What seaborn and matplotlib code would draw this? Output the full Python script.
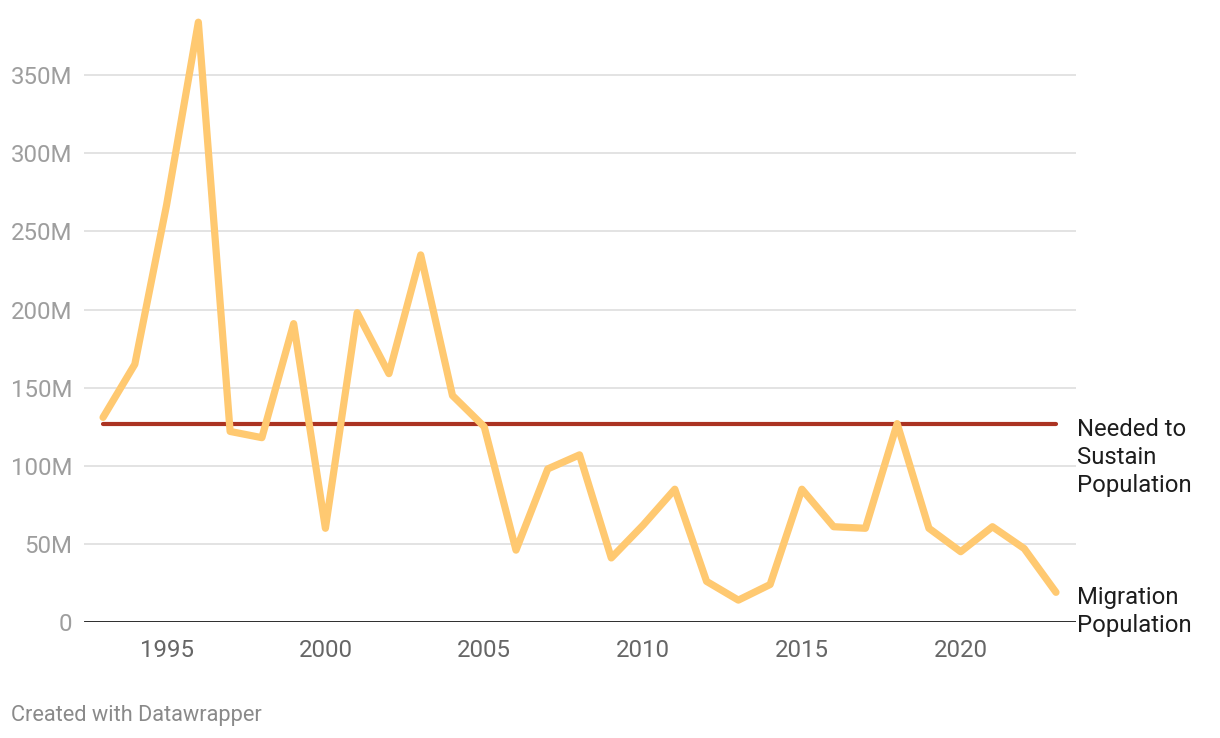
import matplotlib
matplotlib.use("Agg")
import matplotlib.pyplot as plt
import seaborn as sns
import pandas as pd
from matplotlib.ticker import FuncFormatter

years = list(range(1993, 2024))
migration = [131, 165, 267, 384, 122, 118, 191, 60, 198, 159, 235, 145, 125, 46, 98,
             107, 41, 62, 85, 26, 14, 24, 85, 61, 60, 127, 60, 45, 61, 47, 19]
needed_value = 127
x_ticks = [1995, 2000, 2005, 2010, 2015, 2020]
y_ticks = [0, 50, 100, 150, 200, 250, 300, 350]
label_needed = "Needed to\nSustain\nPopulation"
label_migration = "Migration\nPopulation"
credit = "Created with Datawrapper"

df = pd.DataFrame({"year": years, "migration": [v * 1e6 for v in migration],
                   "needed": [needed_value * 1e6] * len(years)})

sns.set_style("white")
plt.rcParams["font.family"] = ["Roboto", "DejaVu Sans"]

fig = plt.figure(figsize=(12.2, 7.38), dpi=100)
ax = fig.add_axes([84 / 1220, 116 / 738, (1076 - 84) / 1220, (622 - 5) / 738])

for t in y_ticks[1:]:
    ax.axhline(t * 1e6, color="#e3e3e3", lw=1.4, zorder=0)

sns.lineplot(data=df, x="year", y="needed", ax=ax, color="#ab3322", lw=3.0,
             solid_capstyle="round", zorder=2)
sns.lineplot(data=df, x="year", y="migration", ax=ax, color="#ffc971", lw=5.2,
             solid_capstyle="round", solid_joinstyle="round", zorder=3)

ax.axhline(0, color="#1a1a1a", lw=2.0, zorder=4, xmin=0, xmax=1.0)

ax.set_xlim(1992.4, 2023.63)
ax.set_ylim(0, 395e6)
ax.set_xticks(x_ticks)
ax.set_yticks([t * 1e6 for t in y_ticks])
ax.yaxis.set_major_formatter(FuncFormatter(lambda v, p: "0" if v == 0 else f"{int(round(v / 1e6))}M"))
ax.tick_params(axis="y", length=0, pad=8.5, labelsize=17.3, labelcolor="#9e9e9e")
ax.tick_params(axis="x", length=0, pad=12.5, labelsize=17.3, labelcolor="#666666")
ax.set_xlabel("")
ax.set_ylabel("")
for s in ax.spines.values():
    s.set_visible(False)
ax.grid(False)

ax.text(2023.66, 105.3e6, label_needed, ha="left", va="center", fontsize=17.2,
        color="#1d1d1d", linespacing=1.29, clip_on=False)
ax.text(2023.66, 6.5e6, label_migration, ha="left", va="center", fontsize=17.2,
        color="#1d1d1d", linespacing=1.29, clip_on=False)

fig.text(11 / 1220, 1 - 715 / 738, credit, ha="left", va="center", fontsize=15.7,
         color="#8a8a8a")

fig.savefig("out.png", dpi=100, facecolor="white")
